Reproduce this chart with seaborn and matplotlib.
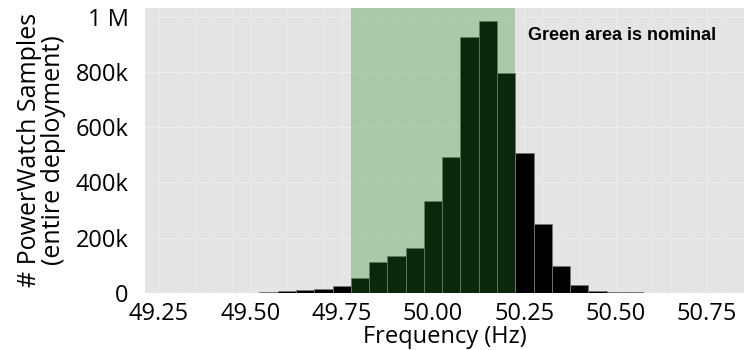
import seaborn as sns
import matplotlib.pyplot as plt
from matplotlib.ticker import FuncFormatter, MultipleLocator

# Bin centres (Hz) and sample counts
FREQ = [49.55, 49.60, 49.65, 49.70, 49.75, 49.80, 49.85, 49.90, 49.95, 50.00, 50.05,
        50.10, 50.15, 50.20, 50.25, 50.30, 50.35, 50.40, 50.45, 50.50, 50.55]
COUNTS = [2e3, 5e3, 9e3, 15e3, 25e3, 52e3, 112e3, 133e3, 163e3, 334e3, 491e3,
          927e3, 987e3, 796e3, 506e3, 248e3, 97e3, 27e3, 8e3, 3e3, 2e3]
NOMINAL = (49.775, 50.225)
BIN_WIDTH = 0.05
X_TICKS = [49.25, 49.50, 49.75, 50.00, 50.25, 50.50, 50.75]
Y_TICKS = [0, 200e3, 400e3, 600e3, 800e3, 1e6]


def fmt_count(v, pos):
    if v >= 1e6:
        return "1 M"
    if v == 0:
        return "0"
    return "{:d}k".format(int(round(v / 1e3)))


def main():
    sns.set_theme(style="darkgrid", rc={
        "axes.facecolor": "#e4e4e4",
        "grid.color": "#ececec",
        "grid.linewidth": 0.8,
        "text.color": "black",
        "axes.labelcolor": "black",
        "xtick.color": "black",
        "ytick.color": "black",
    })
    plt.rcParams["font.family"] = ["Open Sans", "DejaVu Sans"]

    fig = plt.figure(figsize=(7.44, 3.5), dpi=100)
    ax = fig.add_axes([0.195, 0.1637, 0.805, 0.8134])

    edges = [FREQ[0] - BIN_WIDTH / 2 + i * BIN_WIDTH for i in range(len(FREQ) + 1)]
    sns.histplot(x=FREQ, weights=COUNTS, bins=edges, color="black",
                 edgecolor="#777777", linewidth=0.6, alpha=1, ax=ax, zorder=2)

    # nominal band drawn over the bars
    ax.axvspan(*NOMINAL, color="forestgreen", alpha=0.3, linewidth=0, zorder=3)

    ax.set_xlim(49.212, 50.851)
    ax.set_ylim(0, 1.033e6)
    ax.set_xticks(X_TICKS)
    ax.xaxis.set_minor_locator(MultipleLocator(0.05))
    ax.set_yticks(Y_TICKS)
    ax.yaxis.set_major_formatter(FuncFormatter(fmt_count))
    ax.xaxis.set_major_formatter(FuncFormatter(lambda v, p: "{:.2f}".format(v)))
    ax.grid(which="minor", axis="x", color="#ececec", linewidth=0.6)
    ax.set_axisbelow(True)
    ax.tick_params(labelsize=17, length=0)
    ax.tick_params(axis="x", pad=7)
    ax.tick_params(axis="y", pad=12)

    ax.set_xlabel("Frequency (Hz)", fontsize=17, labelpad=-1)
    ax.set_ylabel("# PowerWatch Samples\n(entire deployment)", fontsize=18,
                  linespacing=0.95, labelpad=7)

    ax.text(50.26, 935e3, "Green area is nominal", fontsize=13,
            fontweight="bold", family=["Liberation Sans", "DejaVu Sans"],
            color="black", ha="left", va="center", zorder=4)

    for s in ax.spines.values():
        s.set_visible(False)

    fig.savefig("out.png", dpi=100)
    plt.close(fig)


if __name__ == "__main__":
    main()
